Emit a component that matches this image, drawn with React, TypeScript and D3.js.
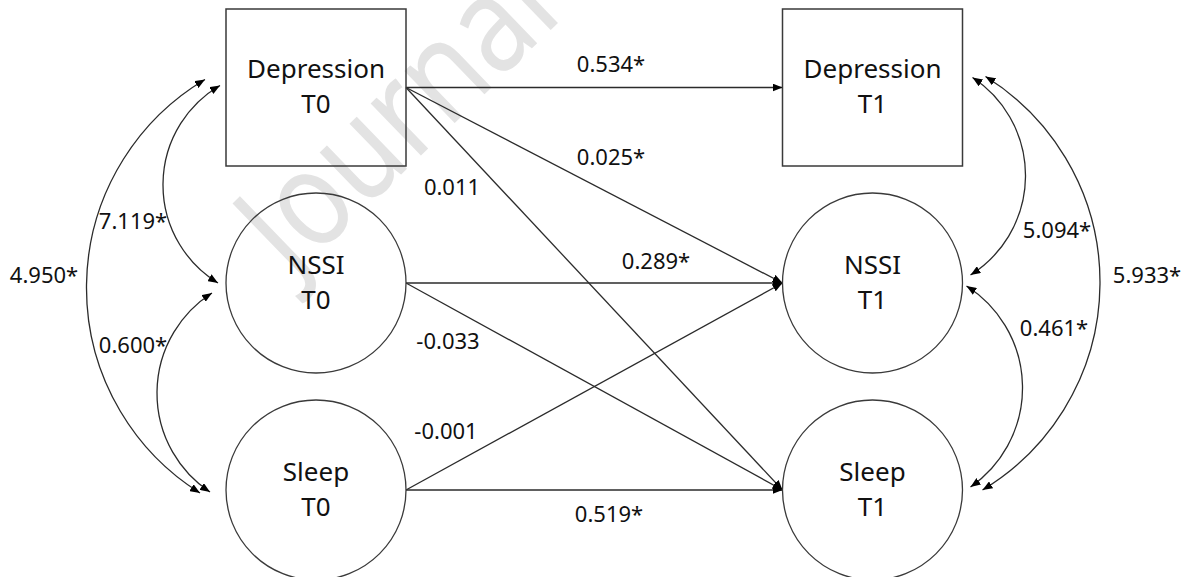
import * as React from "react";
import * as d3 from "d3";

// Variables (rows) and waves (columns)
const rows = ["Depression", "NSSI", "Sleep"];
const waves = ["T0", "T1"];
const shapes = ["rect", "circle", "circle"];

// Cross-lagged paths: [fromRow, toRow, coefficient]
const paths: [string, string, string][] = [
  ["Depression", "Depression", "0.534*"],
  ["Depression", "NSSI", "0.025*"],
  ["Depression", "Sleep", "0.011"],
  ["NSSI", "NSSI", "0.289*"],
  ["NSSI", "Sleep", "-0.033"],
  ["Sleep", "NSSI", "-0.001"],
  ["Sleep", "Sleep", "0.519*"],
];

// Covariances within wave: [wave, rowA, rowB, estimate]
const covariances: [string, string, string, string][] = [
  ["T0", "Depression", "NSSI", "7.119*"],
  ["T0", "Depression", "Sleep", "4.950*"],
  ["T0", "NSSI", "Sleep", "0.600*"],
  ["T1", "Depression", "NSSI", "5.094*"],
  ["T1", "Depression", "Sleep", "5.933*"],
  ["T1", "NSSI", "Sleep", "0.461*"],
];

// layout
const W = 1189;
const H = 577;
const HALF = 90;
const FONT = "'Noto Sans', 'Open Sans', sans-serif";

const x = d3.scaleOrdinal<string, number>().domain(waves).range([316, 872.5]);
const y = d3.scaleOrdinal<string, number>().domain(rows).range([87.5, 283, 490]);

// where each path label sits (centre x, baseline y), in path order
const pathLabelPos = [
  [611, 72],
  [611, 165],
  [452, 195],
  [656, 269],
  [448, 349],
  [446, 439],
  [609, 522],
];

// covariance arcs: endpoint gaps from node edge, bulge, label position
const covLayout = [
  { gap0: 6, gap1: 8, dy0: -2, dy1: 0, bulge: 56, lx: 133, ly: 229 },
  { gap0: 21, gap1: 26, dy0: -8, dy1: 3, bulge: 116, lx: 44, ly: 283 },
  { gap0: 14, gap1: 16, dy0: 10, dy1: 2, bulge: 54, lx: 133, ly: 353 },
  { gap0: 10, gap1: 8, dy0: -10, dy1: -8, bulge: 54, lx: 1057, ly: 238 },
  { gap0: 23, gap1: 20, dy0: -11, dy1: 0, bulge: 116, lx: 1147, ly: 283 },
  { gap0: 4, gap1: 8, dy0: 3, dy1: -3, bulge: 54, lx: 1054, ly: 336 },
];

function arcPath(x0: number, y0: number, x1: number, y1: number, sag: number, sweep: number) {
  const L = Math.hypot(x1 - x0, y1 - y0);
  const r = (L * L) / 4 / (2 * sag) + sag / 2;
  return `M${x0},${y0} A${r},${r} 0 0 ${sweep} ${x1},${y1}`;
}

export default function App() {
  const stroke = "#2b2b2b";
  return (
    <svg
      width={W}
      height={H}
      style={{ position: "absolute", left: 0, top: 0, background: "#fff" }}
      fontFamily={FONT}
    >
      <defs>
        <marker
          id="arrow"
          viewBox="0 0 10 8"
          refX={10}
          refY={4}
          markerWidth={10}
          markerHeight={8}
          markerUnits="userSpaceOnUse"
          orient="auto-start-reverse"
        >
          <path d="M0,0 L10,4 L0,8 z" fill="#000" />
        </marker>
      </defs>

      {/* watermark */}
      <text transform="translate(292,280) rotate(-44) scale(0.84,1)" fontSize={135} fill="#e3e3e3">
        Journal
      </text>

      {/* directed paths */}
      {paths.map(([from, to, coef], i) => {
        const [lx, ly] = pathLabelPos[i];
        return (
          <g key={`p-${i}`}>
            <line
              x1={x("T0") + HALF}
              y1={y(from)}
              x2={x("T1") - HALF}
              y2={y(to)}
              stroke={stroke}
              strokeWidth={1.3}
              markerEnd="url(#arrow)"
            />
            <text x={lx} y={ly} textAnchor="middle" fontSize={22} fill="#111">
              {coef}
            </text>
          </g>
        );
      })}

      {/* covariance arcs */}
      {covariances.map(([wave, a, b, est], i) => {
        const c = covLayout[i];
        const left = wave === "T0";
        const edge = left ? x(wave) - HALF : x(wave) + HALF;
        const s = left ? -1 : 1;
        const x0 = edge + s * c.gap0;
        const x1 = edge + s * c.gap1;
        const y0 = y(a) + c.dy0;
        const y1 = y(b) + c.dy1;
        return (
          <g key={`c-${i}`}>
            <path
              d={arcPath(x0, y0, x1, y1, c.bulge, left ? 0 : 1)}
              fill="none"
              stroke={stroke}
              strokeWidth={1.3}
              markerStart="url(#arrow)"
              markerEnd="url(#arrow)"
            />
            <text x={c.lx} y={c.ly} textAnchor="middle" fontSize={22} fill="#111">
              {est}
            </text>
          </g>
        );
      })}

      {/* nodes */}
      {waves.map((wave) =>
        rows.map((row, ri) => {
          const cx = x(wave);
          const cy = y(row);
          return (
            <g key={`${row}-${wave}`}>
              {shapes[ri] === "rect" ? (
                <rect
                  x={cx - HALF}
                  y={cy - 78.5}
                  width={HALF * 2}
                  height={157}
                  fill="none"
                  stroke="#3a3a3a"
                  strokeWidth={1.5}
                />
              ) : (
                <circle cx={cx} cy={cy} r={HALF} fill="none" stroke="#3a3a3a" strokeWidth={1.3} />
              )}
              <text x={cx} y={cy - 9.5} textAnchor="middle" fontSize={26} fill="#111">
                {row}
              </text>
              <text x={cx} y={cy + 25.5} textAnchor="middle" fontSize={26} fill="#111">
                {wave}
              </text>
            </g>
          );
        })
      )}
    </svg>
  );
}
